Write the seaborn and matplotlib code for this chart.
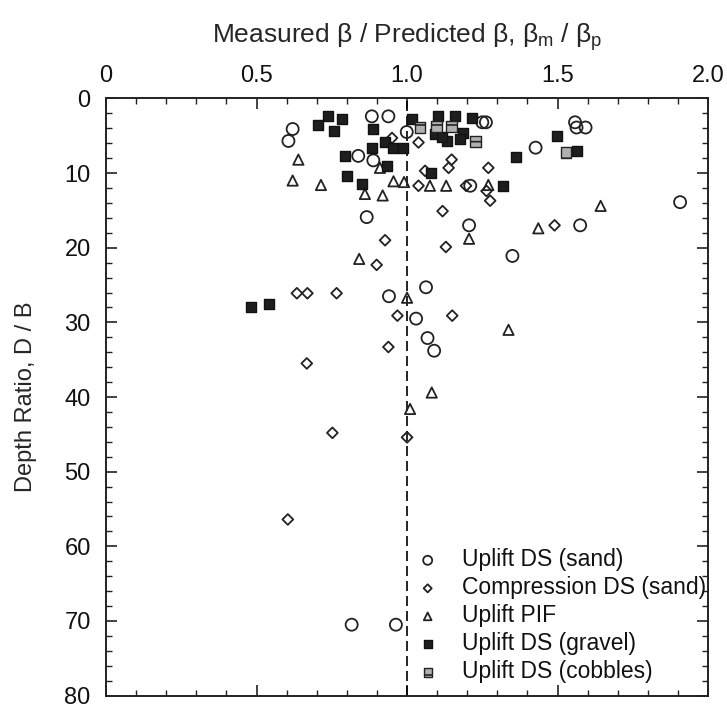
import numpy as np
import pandas as pd
import matplotlib
matplotlib.use("Agg")
import matplotlib.pyplot as plt
import seaborn as sns
from matplotlib.ticker import MultipleLocator

# --- measured / predicted beta ratios and depth ratios D/B ---
sand_uplift_ratio = [0.62, 0.606, 0.883, 0.938, 0.999, 0.838, 0.888, 1.25, 1.262,
                     1.558, 1.563, 1.593, 1.427, 1.21, 1.907, 0.866, 1.206, 1.575,
                     1.35, 1.063, 0.94, 1.03, 1.068, 1.09, 0.816, 0.963]
sand_uplift_depth = [4.1, 5.7, 2.4, 2.4, 4.5, 7.7, 8.3, 3.2, 3.2,
                     3.2, 3.9, 3.9, 6.6, 11.7, 13.9, 15.9, 17.0, 17.0,
                     21.1, 25.3, 26.5, 29.5, 32.1, 33.8, 70.5, 70.5]

sand_comp_ratio = [0.95, 1.038, 1.148, 1.138, 1.27, 1.06, 1.038, 1.196, 1.264,
                   1.276, 1.118, 1.49, 1.129, 0.927, 0.899, 0.634, 0.669, 0.766,
                   0.968, 1.15, 0.938, 0.667, 0.752, 1.0, 0.604]
sand_comp_depth = [5.3, 5.9, 8.2, 9.3, 9.3, 9.7, 11.7, 11.7, 12.4,
                   13.7, 15.1, 17.0, 19.9, 19.0, 22.3, 26.1, 26.1, 26.1,
                   29.1, 29.1, 33.3, 35.5, 44.8, 45.4, 56.4]

pif_ratio = [0.639, 0.62, 0.714, 0.86, 0.919, 0.91, 0.955, 0.99, 1.076, 1.13,
             1.27, 1.643, 1.436, 1.206, 0.841, 1.0, 1.337, 1.082, 1.01]
pif_depth = [8.2, 11.0, 11.6, 12.8, 13.0, 9.3, 11.1, 11.2, 11.7, 11.7,
             11.6, 14.4, 17.4, 18.8, 21.5, 26.7, 31.0, 39.4, 41.6]

gravel_ratio = [0.705, 0.739, 0.783, 0.757, 0.888, 0.883, 0.927, 0.952, 0.985,
                0.794, 0.934, 0.802, 0.85, 1.018, 1.104, 1.159, 1.215, 1.093,
                1.132, 1.187, 1.176, 1.115, 1.08, 1.32, 1.362, 1.497, 1.563,
                0.481, 0.543]
gravel_depth = [3.5, 2.4, 2.7, 4.4, 4.1, 6.6, 5.9, 6.7, 6.6,
                7.7, 9.0, 10.4, 11.5, 2.7, 2.3, 2.4, 2.6, 4.8,
                5.7, 4.6, 5.5, 5.2, 10.0, 11.8, 7.8, 5.1, 7.0,
                27.9, 27.5]

cobble_ratio = [1.043, 1.098, 1.148, 1.226, 1.528]
cobble_depth = [3.9, 3.7, 3.7, 5.8, 7.2]

group_names = ["Uplift DS (sand)", "Compression DS (sand)", "Uplift PIF",
               "Uplift DS (gravel)", "Uplift DS (cobbles)"]

frames = []
for name, xs, ys in zip(group_names,
                        [sand_uplift_ratio, sand_comp_ratio, pif_ratio, gravel_ratio, cobble_ratio],
                        [sand_uplift_depth, sand_comp_depth, pif_depth, gravel_depth, cobble_depth]):
    frames.append(pd.DataFrame({"ratio": xs, "depth": ys, "group": name}))
data = pd.concat(frames, ignore_index=True)

sns.set_theme(style="ticks")
plt.rcParams["font.family"] = ["Liberation Sans", "DejaVu Sans"]
plt.rcParams["mathtext.fontset"] = "custom"
plt.rcParams["mathtext.rm"] = "Liberation Sans"
plt.rcParams["mathtext.it"] = "Liberation Sans"
plt.rcParams["hatch.color"] = "#222222"
plt.rcParams["hatch.linewidth"] = 1.2
plt.rcParams["text.color"] = "#111111"

fig = plt.figure(figsize=(7.27, 7.08), dpi=100)
ax = fig.add_axes([0.1458, 0.0175, 0.974 - 0.1458, 0.861 - 0.0175])

styles = {
    "Uplift DS (sand)": dict(marker="o", s=75, facecolor="none", edgecolor="#222222", linewidth=1.3),
    "Compression DS (sand)": dict(marker="D", s=30, facecolor="none", edgecolor="#222222", linewidth=1.3),
    "Uplift PIF": dict(marker="^", s=55, facecolor="none", edgecolor="#222222", linewidth=1.3),
    "Uplift DS (gravel)": dict(marker="s", s=62, facecolor="#1e1e1e", edgecolor="#111111", linewidth=1.0),
    "Uplift DS (cobbles)": dict(marker="s", s=62, facecolor="#b0b0b0", edgecolor="#222222",
                                linewidth=1.0, hatch="-"),
}

for name in group_names:
    sub = data[data["group"] == name]
    sns.scatterplot(data=sub, x="ratio", y="depth", ax=ax, label=name, zorder=3, **styles[name])

ax.axvline(1.0, color="black", linestyle=(0, (6, 3)), linewidth=1.2, zorder=2)

ax.set_xlim(0, 2.0)
ax.set_ylim(80, 0)
ax.xaxis.tick_top()
ax.xaxis.set_label_position("top")
ax.set_xticks([0, 0.5, 1.0, 1.5, 2.0])
ax.set_xticklabels(["0", "0.5", "1.0", "1.5", "2.0"])
ax.xaxis.set_minor_locator(MultipleLocator(0.1))
ax.set_yticks(np.arange(0, 81, 10))
ax.yaxis.set_minor_locator(MultipleLocator(2))
ax.tick_params(which="both", direction="in", top=True, bottom=True, left=True, right=True,
               labeltop=True, labelbottom=False, labelleft=True, labelright=False,
               labelsize=17, color="#222222", labelcolor="#111111")
ax.tick_params(axis="y", which="both", pad=11)
ax.tick_params(axis="x", which="both", pad=8)
ax.tick_params(which="major", length=8, width=1.2)
ax.tick_params(which="minor", length=4, width=1.0)
for sp in ax.spines.values():
    sp.set_linewidth(1.4)
    sp.set_color("#222222")

ax.set_xlabel(r"Measured $\beta$ / Predicted $\beta$, $\beta_m$ / $\beta_p$", fontsize=19, labelpad=16)
ax.set_ylabel("Depth Ratio, D / B", fontsize=17, labelpad=20)

leg = ax.legend(loc="upper left", bbox_to_anchor=(0.5, 0.262), frameon=False, fontsize=16.5,
                markerscale=0.75, handletextpad=1.0, labelspacing=0.22, borderaxespad=0,
                handlelength=1.0)

fig.savefig("out.png", dpi=100)
